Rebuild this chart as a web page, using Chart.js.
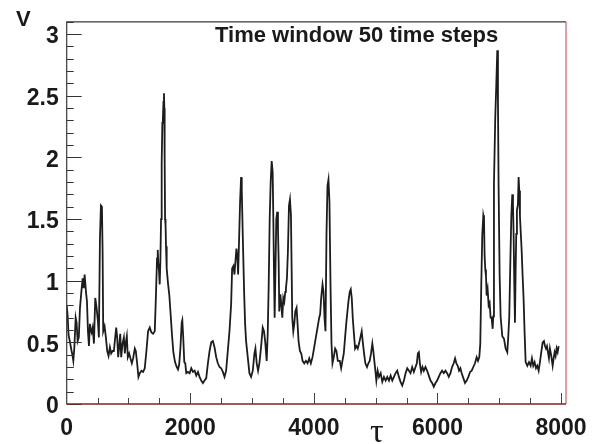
<!DOCTYPE html>
<html>
<head>
<meta charset="utf-8">
<script src="https://cdn.jsdelivr.net/npm/chart.js@4.4.1/dist/chart.umd.min.js"></script>
<style>
  html, body { margin: 0; padding: 0; background: #fff; }
  canvas { display: block; }
</style>
</head>
<body>
<canvas id="vChart" width="602" height="444"></canvas>
<script>
/* Data */
const tau_values = [
  0, 15, 30, 54, 75, 91, 107, 124, 145, 160, 177, 196, 215, 237, 258, 274, 290, 312, 328, 344,
  360, 376, 390, 403, 420, 441, 462, 484, 505, 521, 538, 554, 570, 581, 591, 613, 634, 656, 677, 699,
  720, 742, 763, 785, 801, 817, 833, 849, 866, 882, 903, 925, 941, 957, 973, 989, 1011, 1032, 1054, 1075,
  1102, 1118, 1140, 1161, 1183, 1210, 1237, 1263, 1290, 1317, 1344, 1371, 1398, 1425, 1441, 1462, 1473, 1484, 1494, 1505,
  1516, 1527, 1537, 1548, 1556, 1566, 1574, 1580, 1585, 1592, 1600, 1607, 1618, 1639, 1661, 1683, 1704, 1726, 1753, 1780,
  1801, 1820, 1840, 1861, 1871, 1885, 1903, 1919, 1935, 1962, 1989, 2016, 2043, 2070, 2097, 2124, 2150, 2177, 2204, 2231,
  2258, 2285, 2312, 2339, 2365, 2392, 2419, 2446, 2473, 2500, 2527, 2554, 2580, 2607, 2634, 2661, 2677, 2698, 2715, 2731,
  2747, 2763, 2774, 2790, 2806, 2822, 2833, 2849, 2871, 2887, 2903, 2930, 2957, 2984, 3011, 3038, 3054, 3075, 3097, 3118,
  3145, 3172, 3193, 3215, 3236, 3253, 3269, 3285, 3301, 3317, 3333, 3344, 3355, 3365, 3376, 3392, 3408, 3419, 3430, 3440,
  3457, 3473, 3489, 3505, 3521, 3537, 3548, 3564, 3580, 3597, 3613, 3629, 3640, 3650, 3667, 3683, 3699, 3720, 3736, 3752,
  3774, 3796, 3817, 3844, 3871, 3898, 3925, 3951, 3978, 4005, 4032, 4059, 4086, 4102, 4118, 4140, 4156, 4172, 4188, 4204,
  4220, 4236, 4252, 4269, 4285, 4301, 4322, 4344, 4365, 4387, 4419, 4441, 4462, 4484, 4505, 4527, 4543, 4559, 4581, 4597,
  4613, 4629, 4645, 4667, 4688, 4710, 4731, 4753, 4774, 4790, 4812, 4833, 4860, 4882, 4903, 4925, 4946, 4962, 4978, 4995,
  5011, 5032, 5054, 5081, 5107, 5134, 5161, 5188, 5215, 5242, 5269, 5296, 5322, 5349, 5376, 5403, 5430, 5457, 5484, 5511,
  5538, 5564, 5591, 5618, 5645, 5666, 5683, 5699, 5715, 5736, 5758, 5779, 5806, 5833, 5860, 5887, 5914, 5941, 5968, 5995,
  6021, 6048, 6075, 6102, 6129, 6156, 6183, 6210, 6236, 6263, 6285, 6306, 6328, 6349, 6371, 6392, 6419, 6446, 6473, 6500,
  6527, 6554, 6580, 6607, 6634, 6656, 6677, 6693, 6709, 6725, 6742, 6753, 6763, 6774, 6785, 6796, 6812, 6828, 6844, 6860,
  6876, 6893, 6903, 6914, 6935, 6952, 6968, 6979, 6989, 7006, 7022, 7049, 7076, 7103, 7130, 7146, 7162, 7178, 7195, 7211,
  7222, 7232, 7243, 7254, 7265, 7275, 7286, 7302, 7313, 7324, 7335, 7346, 7362, 7378, 7394, 7410, 7427, 7454, 7481, 7508,
  7529, 7550, 7572, 7594, 7615, 7637, 7658, 7680, 7702, 7723, 7740, 7756, 7772, 7788, 7804, 7820, 7842, 7864, 7880, 7896,
  7912, 7928, 7945, 7961
];
const v_values = [
  0.80, 0.72, 0.56, 0.50, 0.44, 0.40, 0.35, 0.46, 0.70, 0.66, 0.51, 0.54, 0.78, 0.91, 1.02, 0.94, 1.05, 0.91, 0.83, 0.59,
  0.47, 0.65, 0.60, 0.58, 0.62, 0.49, 0.86, 0.78, 0.67, 0.54, 1.34, 1.61, 1.60, 1.24, 0.59, 0.63, 0.54, 0.43, 0.39, 0.46,
  0.41, 0.43, 0.43, 0.54, 0.62, 0.54, 0.38, 0.46, 0.57, 0.38, 0.49, 0.54, 0.41, 0.50, 0.55, 0.38, 0.41, 0.37, 0.33, 0.37,
  0.45, 0.43, 0.33, 0.22, 0.25, 0.27, 0.26, 0.29, 0.43, 0.59, 0.62, 0.58, 0.57, 0.59, 0.83, 1.18, 1.25, 1.13, 1.08, 0.97,
  1.16, 1.50, 1.95, 2.28, 2.30, 2.45, 2.52, 2.40, 2.00, 1.50, 1.45, 1.28, 1.10, 0.98, 0.88, 0.72, 0.56, 0.42, 0.34, 0.30,
  0.28, 0.32, 0.45, 0.66, 0.68, 0.55, 0.34, 0.33, 0.25, 0.26, 0.25, 0.29, 0.26, 0.27, 0.23, 0.26, 0.22, 0.19, 0.17, 0.19,
  0.21, 0.33, 0.43, 0.50, 0.51, 0.46, 0.38, 0.33, 0.30, 0.29, 0.26, 0.22, 0.27, 0.43, 0.59, 0.81, 1.10, 1.12, 1.05, 1.16,
  1.26, 1.18, 1.05, 1.34, 1.64, 1.84, 1.74, 1.37, 0.91, 0.65, 0.51, 0.38, 0.25, 0.22, 0.27, 0.41, 0.45, 0.33, 0.27, 0.33,
  0.46, 0.62, 0.59, 0.49, 0.35, 0.57, 0.97, 1.50, 1.80, 1.97, 1.88, 1.50, 1.05, 0.70, 1.02, 1.50, 1.56, 1.42, 1.16, 0.75,
  0.89, 0.81, 0.70, 0.86, 0.83, 0.91, 0.94, 1.02, 1.24, 1.61, 1.66, 1.53, 1.10, 0.70, 0.59, 0.65, 0.75, 0.78, 0.65, 0.51,
  0.43, 0.41, 0.35, 0.33, 0.35, 0.33, 0.37, 0.33, 0.38, 0.46, 0.54, 0.62, 0.70, 0.73, 0.86, 0.97, 0.91, 0.70, 0.59, 1.37,
  1.77, 1.82, 1.64, 0.97, 0.49, 0.33, 0.38, 0.45, 0.43, 0.35, 0.35, 0.29, 0.35, 0.41, 0.54, 0.67, 0.75, 0.83, 0.91, 0.93,
  0.86, 0.70, 0.59, 0.45, 0.47, 0.45, 0.49, 0.54, 0.59, 0.51, 0.41, 0.33, 0.30, 0.33, 0.35, 0.41, 0.49, 0.43, 0.35, 0.27,
  0.19, 0.27, 0.22, 0.25, 0.18, 0.22, 0.19, 0.22, 0.19, 0.23, 0.19, 0.22, 0.25, 0.27, 0.22, 0.18, 0.15, 0.19, 0.25, 0.29,
  0.27, 0.25, 0.30, 0.26, 0.30, 0.33, 0.41, 0.42, 0.33, 0.26, 0.30, 0.27, 0.30, 0.27, 0.23, 0.19, 0.17, 0.14, 0.17, 0.19,
  0.22, 0.25, 0.27, 0.25, 0.27, 0.25, 0.22, 0.25, 0.30, 0.33, 0.37, 0.33, 0.31, 0.27, 0.29, 0.25, 0.21, 0.17, 0.19, 0.22,
  0.26, 0.27, 0.30, 0.33, 0.38, 0.35, 0.38, 0.49, 0.97, 1.37, 1.53, 1.50, 1.20, 1.09, 1.04, 0.88, 0.93, 0.80, 0.82, 0.70,
  0.70, 0.61, 0.71, 1.78, 2.32, 2.59, 2.87, 2.45, 1.78, 1.04, 0.71, 0.55, 0.53, 0.45, 0.42, 0.55, 0.71, 1.12, 1.52, 1.70,
  1.62, 1.38, 0.98, 0.66, 1.09, 1.38, 1.57, 1.62, 1.84, 1.73, 1.52, 1.41, 1.25, 1.04, 0.85, 0.58, 0.34, 0.31, 0.34, 0.31,
  0.37, 0.31, 0.34, 0.29, 0.31, 0.27, 0.34, 0.42, 0.50, 0.51, 0.47, 0.45, 0.47, 0.42, 0.37, 0.45, 0.39, 0.31, 0.37, 0.42,
  0.39, 0.45, 0.42, 0.47
];
const x_tick_labels = [0, 2000, 4000, 6000, 8000];
const y_tick_labels = [0, 0.5, 1, 1.5, 2, 2.5, 3];
const title_text = 'Time window 50 time steps';
const y_title = 'V';
const x_title = '\u03C4';

const x_max = 8080;
const y_max = 3.1;

/* ROOT style frame, inward ticks and texts */
const rootFrame = {
  id: 'rootFrame',
  afterDraw: (chart) => {
    const ctx = chart.ctx;
    const area = chart.chartArea;
    const xs = chart.scales.x;
    const ys = chart.scales.y;
    ctx.save();

    // minor + major ticks on y axis
    ctx.strokeStyle = '#333';
    ctx.lineWidth = 1;
    for (let i = 0; i <= 31; i++) {
      const py = Math.round(ys.getPixelForValue(i / 10)) + 0.5;
      const len = (i % 5 == 0) ? 15 : 7;
      ctx.beginPath();
      ctx.moveTo(area.left, py);
      ctx.lineTo(area.left + len, py);
      ctx.stroke();
    }
    // ticks on x axis
    ctx.strokeStyle = '#444';
    for (let t = 500; t <= 8000; t += 500) {
      const px = Math.round(xs.getPixelForValue(t)) + 0.5;
      const len = (t % 2000 == 0) ? 11 : 6;
      ctx.beginPath();
      ctx.moveTo(px, area.bottom);
      ctx.lineTo(px, area.bottom - len);
      ctx.stroke();
    }

    // frame
    ctx.lineWidth = 1.2;
    ctx.strokeStyle = '#3a3a3a';
    ctx.beginPath();
    ctx.moveTo(area.left, area.bottom);
    ctx.lineTo(area.left, area.top);
    ctx.lineTo(area.right, area.top);
    ctx.stroke();
    ctx.strokeStyle = '#c8606c';
    ctx.beginPath();
    ctx.moveTo(area.right, area.top);
    ctx.lineTo(area.right, area.bottom);
    ctx.stroke();
    ctx.lineWidth = 1.6;
    ctx.strokeStyle = '#7a2424';
    ctx.beginPath();
    ctx.moveTo(area.left, area.bottom);
    ctx.lineTo(area.right, area.bottom);
    ctx.stroke();

    // texts
    ctx.fillStyle = '#1a1a1a';
    ctx.textBaseline = 'alphabetic';
    ctx.textAlign = 'left';
    ctx.font = 'bold 22px "Liberation Sans", Arial, sans-serif';
    ctx.fillText(title_text, 215, 41.5);
    ctx.fillText(y_title, 16, 26);
    ctx.font = '34px "Liberation Serif", "DejaVu Serif", serif';
    ctx.fillText(x_title, 370, 442);
    ctx.restore();
  }
};

const points = tau_values.map((t, i) => ({ x: t, y: v_values[i] }));

const tick_font = { family: '"Liberation Sans", Arial, sans-serif', size: 23, weight: 'bold' };

const chart = new Chart(document.getElementById('vChart').getContext('2d'), {
  type: 'line',
  data: {
    datasets: [{
      data: points,
      borderColor: '#1c1c1c',
      borderWidth: 1.8,
      borderJoinStyle: 'miter',
      pointRadius: 0,
      tension: 0,
      fill: false
    }]
  },
  options: {
    responsive: false,
    animation: false,
    events: [],
    layout: { padding: { top: 17.5, right: 36, left: 0, bottom: 0 } },
    plugins: {
      legend: { display: false },
      tooltip: { enabled: false }
    },
    scales: {
      x: {
        type: 'linear',
        min: 0,
        max: x_max,
        afterFit: (s) => { s.height = 40; },
        afterBuildTicks: (s) => { s.ticks = x_tick_labels.map(v => ({ value: v })); },
        grid: { display: false, drawTicks: false },
        border: { display: false },
        ticks: {
          maxRotation: 0,
          autoSkip: false,
          padding: 11,
          color: '#1a1a1a',
          font: tick_font,
          callback: (v) => String(v)
        }
      },
      y: {
        type: 'linear',
        min: 0,
        max: y_max,
        afterFit: (s) => { s.width = 66.7; },
        afterBuildTicks: (s) => { s.ticks = y_tick_labels.map(v => ({ value: v })); },
        grid: { display: false, drawTicks: false },
        border: { display: false },
        ticks: {
          autoSkip: false,
          padding: 8,
          labelOffset: 3,
          color: '#1a1a1a',
          font: tick_font,
          callback: (v) => String(v)
        }
      }
    }
  },
  plugins: [rootFrame]
});
</script>
</body>
</html>
